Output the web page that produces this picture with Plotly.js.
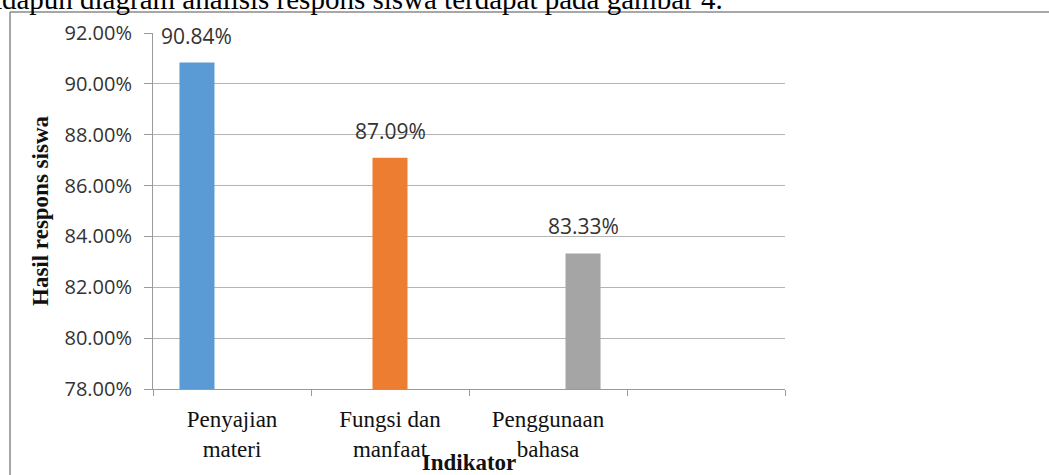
<!DOCTYPE html>
<html>
<head>
<meta charset="utf-8">
<script src="https://cdn.plot.ly/plotly-3.0.1.min.js"></script>
<style>html,body{margin:0;padding:0;background:#fff;}#chart{width:1049px;height:475px;}</style>
</head>
<body>
<div id="chart"></div>
<script>
const categories = ['Penyajian<br>materi', 'Fungsi dan<br>manfaat', 'Penggunaan<br>bahasa', ' '];
const seriesNames = ['Penyajian materi', 'Fungsi dan manfaat', 'Penggunaan bahasa'];
const seriesValues = [90.84, 87.09, 83.33];
const seriesColors = ['#5B9BD5', '#ED7D31', '#A5A5A5'];
const yTickValues = [78, 80, 82, 84, 86, 88, 90, 92];
const yTickLabels = ['78.00%', '80.00%', '82.00%', '84.00%', '86.00%', '88.00%', '90.00%', '92.00%'];
const captionText = 'Adapun diagram analisis respons siswa terdapat pada gambar 4.';

const SERIF = 'Liberation Serif, Times New Roman, serif';
const SANS = 'Open Sans, sans-serif';

const traces = seriesNames.map((name, i) => ({
  type: 'bar',
  name: name,
  x: categories,
  y: categories.map((c, j) => (j === i ? seriesValues[i] : null)),
  marker: { color: seriesColors[i] },
  hoverinfo: 'x+y'
}));

const labelAnnotations = seriesValues.map((v, i) => ({
  x: categories[i], y: v, xref: 'x', yref: 'y',
  text: v.toFixed(2) + '%',
  showarrow: false,
  xshift: (i - 1) * 35.5,
  yshift: 27,
  yanchor: 'middle',
  font: { family: SANS, size: 21, color: '#333' }
}));

const layout = {
  width: 1049, height: 475,
  margin: { l: 153, r: 264, t: 33, b: 86 },
  paper_bgcolor: '#fff', plot_bgcolor: '#fff',
  barmode: 'group', bargap: 0.335, bargroupgap: 0,
  showlegend: false,
  xaxis: {
    type: 'category', range: [-0.5, 3.5],
    tickson: 'boundaries', ticks: 'outside', ticklen: 6, tickcolor: '#9a9a9a',
    showline: true, linecolor: '#9a9a9a', linewidth: 1,
    showgrid: false, zeroline: false,
    ticklabelstandoff: 9,
    tickfont: { family: SERIF, size: 23, color: '#111' },
    title: { text: '<b>Indikator</b>', font: { family: SERIF, size: 23, color: '#111' }, standoff: 4 },
    automargin: false
  },
  yaxis: {
    range: [78, 92], tickvals: yTickValues, ticktext: yTickLabels,
    ticks: 'outside', ticklen: 8, tickcolor: '#9a9a9a',
    showline: true, linecolor: '#9a9a9a', linewidth: 1,
    showgrid: true, gridcolor: '#b4b4b4', gridwidth: 1, zeroline: false,
    ticklabelstandoff: 8,
    tickfont: { family: SANS, size: 20, color: '#333' },
    title: { text: '<b>Hasil respons siswa</b>', font: { family: SERIF, size: 23, color: '#111' }, standoff: 9 },
    automargin: false
  },
  annotations: labelAnnotations.concat([{
    xref: 'paper', yref: 'paper',
    x: (725 - 153) / 632, y: (389 - 17) / 356,
    xanchor: 'right', yanchor: 'bottom',
    text: captionText, showarrow: false,
    font: { family: SERIF, size: 29, color: '#000' }
  }]),
  shapes: [
    { type: 'line', xref: 'paper', yref: 'paper', x0: (10 - 153) / 632, x1: (1049 - 153) / 632, y0: (389 - 12) / 356, y1: (389 - 12) / 356, line: { color: '#8a8a8a', width: 1.5 } },
    { type: 'line', xref: 'paper', yref: 'paper', x0: (10 - 153) / 632, x1: (10 - 153) / 632, y0: (389 - 12) / 356, y1: (389 - 480) / 356, line: { color: '#8a8a8a', width: 1.5 } }
  ]
};

Plotly.newPlot('chart', traces, layout, { displayModeBar: false, staticPlot: true });
</script>
</body>
</html>
